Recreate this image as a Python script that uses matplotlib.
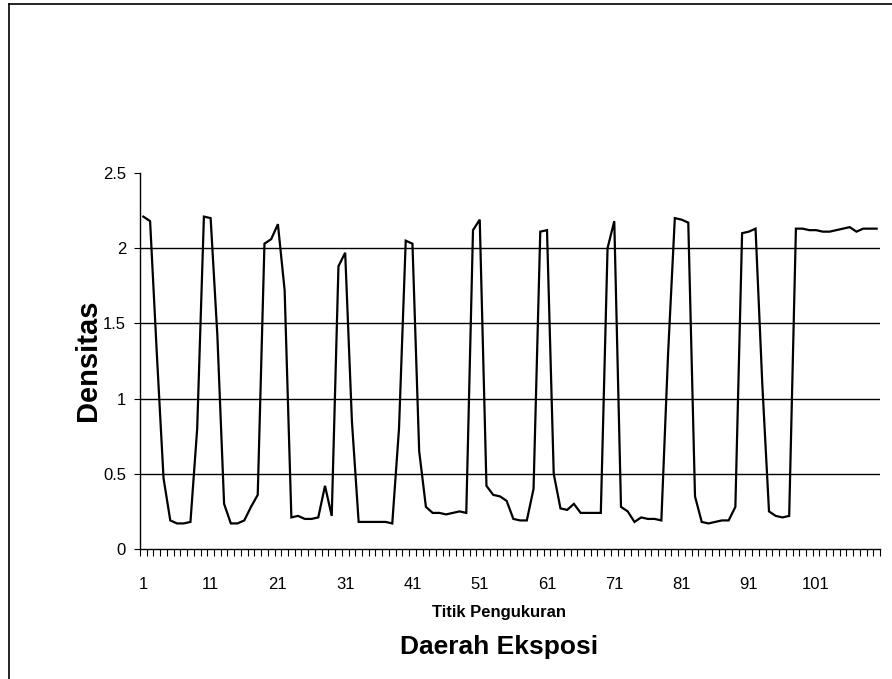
import numpy as np
import matplotlib.pyplot as plt
from matplotlib.lines import Line2D

plt.rcParams['font.family'] = ['Liberation Sans', 'DejaVu Sans']

# titik pengukuran 1..110
titik = np.arange(1, 111)
densitas = [
    2.21, 2.18, 1.30, 0.47, 0.19, 0.17, 0.17, 0.18, 0.80, 2.21,
    2.20, 1.42, 0.30, 0.17, 0.17, 0.19, 0.28, 0.36, 2.03, 2.06,
    2.16, 1.72, 0.21, 0.22, 0.20, 0.20, 0.21, 0.42, 0.22, 1.88,
    1.97, 0.85, 0.18, 0.18, 0.18, 0.18, 0.18, 0.17, 0.80, 2.05,
    2.03, 0.65, 0.28, 0.24, 0.24, 0.23, 0.24, 0.25, 0.24, 2.12,
    2.19, 0.42, 0.36, 0.35, 0.32, 0.20, 0.19, 0.19, 0.40, 2.11,
    2.12, 0.50, 0.27, 0.26, 0.30, 0.24, 0.24, 0.24, 0.24, 2.00,
    2.18, 0.28, 0.25, 0.18, 0.21, 0.20, 0.20, 0.19, 1.30, 2.20,
    2.19, 2.17, 0.35, 0.18, 0.17, 0.18, 0.19, 0.19, 0.28, 2.10,
    2.11, 2.13, 1.10, 0.25, 0.22, 0.21, 0.22, 2.13, 2.13, 2.12,
    2.12, 2.11, 2.11, 2.12, 2.13, 2.14, 2.11, 2.13, 2.13, 2.13,
]
xtick_pos = [1, 11, 21, 31, 41, 51, 61, 71, 81, 91, 101]
ytick_pos = [0, 0.5, 1, 1.5, 2, 2.5]
ytick_lbl = ['0', '0.5', '1', '1.5', '2', '2.5']

W, H = 892, 679
fig = plt.figure(figsize=(W / 100, H / 100), dpi=100)
ax = fig.add_axes([140 / W, 1 - 549 / H, 740 / W, 376 / H])

ax.plot(titik, densitas, color='black', lw=1.6, solid_joinstyle='miter')

ax.set_xlim(0.5, len(titik) + 0.5)
ax.set_ylim(0, 2.5)

ax.set_yticks(ytick_pos)
ax.set_yticklabels(ytick_lbl, fontsize=12)
ax.set_xticks(xtick_pos)
ax.set_xticklabels([str(v) for v in xtick_pos], fontsize=12)
ax.set_xticks(np.arange(0.5, len(titik) + 1, 1), minor=True)
ax.tick_params(axis='x', which='major', length=0, pad=20)
ax.tick_params(axis='x', which='minor', length=5, width=0.8, direction='out')
ax.tick_params(axis='y', length=4, width=0.8, direction='out', pad=6)

# horizontal gridlines (not at 0 and 2.5)
ax.yaxis.grid(True, color='black', lw=1.0)
gl = ax.get_ygridlines()
gl[0].set_visible(False)
gl[-1].set_visible(False)
ax.set_axisbelow(True)

for s in ['top', 'right']:
    ax.spines[s].set_visible(False)
for s in ['left', 'bottom']:
    ax.spines[s].set_linewidth(1.0)

fig.text(88 / W, 1 - 360 / H, 'Densitas', fontsize=21, fontweight='bold',
         rotation=90, ha='center', va='center')
fig.text(499 / W, 1 - 613 / H, 'Titik Pengukuran', fontsize=12, fontweight='bold',
         ha='center', va='center')
fig.text(499 / W, 1 - 647 / H, 'Daerah Eksposi', fontsize=19, fontweight='bold',
         ha='center', va='center')

# outer frame of the scanned figure
fig.add_artist(Line2D([9 / W, 9 / W], [0, 1 - 4 / H], transform=fig.transFigure,
                      color='black', lw=1.2))
fig.add_artist(Line2D([9 / W, 1], [1 - 4 / H, 1 - 4 / H], transform=fig.transFigure,
                      color='black', lw=1.2))

fig.savefig('out.png', dpi=100)
